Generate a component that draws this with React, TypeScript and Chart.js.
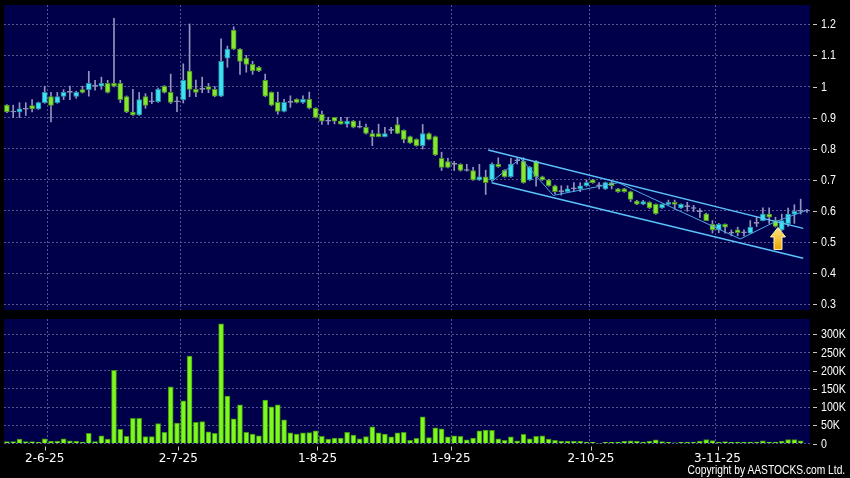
import React, { useEffect, useRef } from 'react';
import { Chart, registerables } from 'chart.js';

Chart.register(...registerables);

// ---- data (index 0 = 2 Jun 2025, one step per trading day) ----
const FIRST_INDEX = -6;

const opens = [
  0.940, 0.918, 0.918, 0.927, 0.939, 0.928,
  0.948, 0.968, 0.948, 0.968, 0.981, 0.968, 0.990, 0.990, 1.001, 1.001,
  1.010, 1.010, 1.010, 0.968, 0.918, 0.909, 0.968, 0.951, 0.951, 1.001,
  0.981, 0.951, 0.958, 1.050, 0.991, 0.991, 1.000, 0.991, 0.969, 1.091,
  1.181, 1.120, 1.091, 1.071, 1.062, 1.020, 0.981, 0.949, 0.920, 0.949,
  0.959, 0.949, 0.959, 0.930, 0.911, 0.889, 0.901, 0.889, 0.879, 0.889,
  0.869, 0.869, 0.849, 0.849, 0.839, 0.859, 0.878, 0.859, 0.839, 0.830,
  0.810, 0.849, 0.839, 0.769, 0.759, 0.750, 0.750, 0.730, 0.730, 0.700,
  0.710, 0.700, 0.751, 0.731, 0.710, 0.761, 0.760, 0.700, 0.760, 0.710,
  0.700, 0.681, 0.662, 0.662, 0.671, 0.671, 0.681, 0.700, 0.681, 0.671,
  0.691, 0.671, 0.671, 0.662, 0.632, 0.622, 0.628, 0.621, 0.610, 0.621,
  0.628, 0.610, 0.614, 0.608, 0.598, 0.591, 0.557, 0.539, 0.557, 0.529,
  0.539, 0.530, 0.529, 0.560, 0.569, 0.590, 0.569, 0.539, 0.559, 0.590,
  0.599, 0.600,
];

const highs = [
  0.942, 0.940, 0.948, 0.948, 0.958, 0.950,
  1.001, 0.981, 0.981, 0.990, 1.001, 0.985, 1.001, 1.049, 1.020, 1.030,
  1.020, 1.219, 1.020, 0.970, 0.991, 0.981, 0.977, 0.981, 0.995, 1.003,
  1.040, 0.967, 1.073, 1.201, 1.021, 1.030, 1.010, 1.000, 1.153, 1.130,
  1.192, 1.122, 1.100, 1.081, 1.065, 1.040, 0.983, 0.982, 0.959, 0.970,
  0.961, 0.970, 0.982, 0.932, 0.921, 0.901, 0.901, 0.901, 0.901, 0.891,
  0.889, 0.879, 0.859, 0.879, 0.869, 0.869, 0.901, 0.861, 0.841, 0.832,
  0.878, 0.851, 0.841, 0.789, 0.769, 0.759, 0.752, 0.750, 0.740, 0.750,
  0.731, 0.755, 0.771, 0.733, 0.769, 0.771, 0.771, 0.743, 0.762, 0.712,
  0.702, 0.683, 0.681, 0.681, 0.691, 0.691, 0.700, 0.702, 0.691, 0.693,
  0.696, 0.673, 0.673, 0.664, 0.634, 0.634, 0.630, 0.623, 0.623, 0.635,
  0.635, 0.623, 0.628, 0.618, 0.608, 0.593, 0.569, 0.560, 0.559, 0.539,
  0.548, 0.539, 0.569, 0.580, 0.610, 0.610, 0.580, 0.590, 0.609, 0.620,
  0.638, 0.605,
];

const lows = [
  0.916, 0.900, 0.900, 0.907, 0.918, 0.926,
  0.946, 0.886, 0.946, 0.958, 0.958, 0.962, 0.979, 0.969, 0.988, 0.991,
  0.979, 0.999, 0.948, 0.916, 0.907, 0.907, 0.930, 0.945, 0.949, 0.979,
  0.945, 0.919, 0.947, 0.967, 0.967, 0.980, 0.980, 0.967, 0.967, 1.062,
  1.118, 1.039, 1.046, 1.039, 1.048, 0.967, 0.938, 0.911, 0.918, 0.933,
  0.947, 0.946, 0.928, 0.899, 0.878, 0.878, 0.880, 0.879, 0.869, 0.867,
  0.867, 0.847, 0.810, 0.838, 0.838, 0.849, 0.848, 0.819, 0.817, 0.808,
  0.799, 0.828, 0.778, 0.730, 0.738, 0.730, 0.728, 0.728, 0.698, 0.698,
  0.653, 0.696, 0.740, 0.708, 0.708, 0.751, 0.689, 0.698, 0.680, 0.698,
  0.679, 0.655, 0.651, 0.660, 0.662, 0.662, 0.679, 0.689, 0.671, 0.669,
  0.671, 0.660, 0.660, 0.630, 0.620, 0.620, 0.608, 0.589, 0.608, 0.619,
  0.605, 0.608, 0.599, 0.598, 0.579, 0.569, 0.529, 0.530, 0.529, 0.520,
  0.520, 0.520, 0.528, 0.550, 0.568, 0.560, 0.548, 0.537, 0.550, 0.560,
  0.590, 0.595,
];

const closes = [
  0.918, 0.918, 0.928, 0.927, 0.928, 0.948,
  0.981, 0.939, 0.968, 0.981, 0.981, 0.981, 0.981, 1.010, 1.001, 1.010,
  0.981, 1.001, 0.958, 0.918, 0.909, 0.958, 0.939, 0.951, 0.991, 0.981,
  0.949, 0.951, 1.020, 0.991, 0.981, 0.991, 0.991, 0.969, 1.081, 1.120,
  1.120, 1.081, 1.071, 1.050, 1.050, 0.969, 0.940, 0.920, 0.949, 0.949,
  0.949, 0.959, 0.930, 0.901, 0.889, 0.889, 0.889, 0.879, 0.889, 0.869,
  0.869, 0.849, 0.839, 0.839, 0.849, 0.859, 0.849, 0.830, 0.819, 0.810,
  0.849, 0.830, 0.780, 0.740, 0.740, 0.750, 0.730, 0.730, 0.700, 0.710,
  0.691, 0.751, 0.742, 0.710, 0.751, 0.761, 0.691, 0.741, 0.710, 0.700,
  0.681, 0.662, 0.662, 0.671, 0.671, 0.681, 0.691, 0.691, 0.681, 0.691,
  0.681, 0.662, 0.662, 0.637, 0.622, 0.630, 0.610, 0.591, 0.621, 0.628,
  0.621, 0.621, 0.614, 0.608, 0.598, 0.569, 0.539, 0.557, 0.548, 0.529,
  0.530, 0.530, 0.548, 0.560, 0.590, 0.580, 0.550, 0.569, 0.590, 0.599,
  0.599, 0.600,
];

// volume, thousands of shares
const volumesK = [
  5, 5, 12, 5, 5, 3,
  13, 6, 6, 13, 7, 6, 4, 28, 5, 21,
  12, 201, 39, 20, 69, 69, 19, 19, 55, 31,
  156, 56, 117, 240, 58, 60, 32, 28, 329, 130,
  68, 106, 31, 26, 21, 119, 101, 106, 65, 29,
  26, 29, 30, 35, 20, 12, 15, 15, 31, 23,
  13, 19, 46, 29, 26, 18, 29, 31, 9, 14,
  73, 16, 43, 40, 18, 21, 20, 10, 15, 35,
  37, 36, 13, 9, 18, 7, 25, 13, 20, 21,
  12, 9, 6, 6, 6, 6, 3, 3, 1, 3,
  3, 4, 6, 7, 6, 4, 6, 10, 5, 3,
  2, 4, 4, 3, 6, 11, 8, 4, 5, 3,
  4, 4, 4, 4, 7, 4, 4, 6, 11, 11,
  7, 0,
];

const dateLabels = ['2-6-25', '2-7-25', '1-8-25', '1-9-25', '2-10-25', '3-11-25'];
const dateLabelPos = [0, 21.2, 43.3, 64.5, 86.7, 106.8];
const dateGridPos = [0.5, 21.5, 43.5, 64.5, 86.5, 106.5];
const priceTicks = [0.3, 0.4, 0.5, 0.6, 0.7, 0.8, 0.9, 1.0, 1.1, 1.2];
const volumeTicksK = [0, 50, 100, 150, 200, 250, 300];

// drawn trend channel and swing line
const channelUpper = [{ x: 70.4, y: 0.796 }, { x: 120.4, y: 0.544 }];
const channelLower = [{ x: 70.95, y: 0.691 }, { x: 120.4, y: 0.448 }];
const swingLine = [
  { x: 70.95, y: 0.694 }, { x: 75.55, y: 0.769 }, { x: 80.73, y: 0.65 },
  { x: 91.05, y: 0.691 }, { x: 110.4, y: 0.51 }, { x: 115.9, y: 0.565 },
  { x: 120.8, y: 0.601 },
];
const arrowTip = { x: 116.4, y: 0.547 };

// ---- styling ----
const X_MIN = -6.46;
const X_MAX = 121.48;
const NAVY = '#00004A';
const GRID = '#56568E';
const WICK = '#9494BE';
const GREEN_FILL = '#84E833';
const GREEN_EDGE = '#4E8E26';
const CYAN_FILL = '#3CE2F2';
const CYAN_EDGE = '#2790A8';
const VOL_FILL = '#7EF81E';
const VOL_EDGE = '#3F9410';
const NARROW_FAMILY = "'Liberation Sans', Arial, sans-serif";
const DATE_FONT = "'DejaVu Sans', sans-serif";

const formatPrice = (v: number) => String(Number(v.toFixed(1)));
const formatVolume = (v: number) => (v === 0 ? '0' : `${v}K`);

const panelBg = {
  id: 'panelBg',
  beforeDraw(chart: any) {
    const { ctx, chartArea: a } = chart;
    ctx.save();
    ctx.fillStyle = NAVY;
    ctx.fillRect(a.left, a.top, a.right - a.left, a.bottom - a.top);
    ctx.restore();
  },
};

// small detached tick marks + condensed value labels on the right axis
const axisDecor = {
  id: 'axisDecor',
  afterDraw(chart: any) {
    const { ctx, chartArea: a, scales } = chart;
    const opts = chart.options.plugins.axisDecor || {};
    const y = scales.y;
    ctx.save();
    ctx.strokeStyle = '#C8C8C8';
    ctx.lineWidth = 1;
    y.ticks.forEach((t: any) => {
      const py = Math.round(y.getPixelForValue(t.value)) + 0.5;
      ctx.beginPath();
      ctx.moveTo(a.right + 3, py);
      ctx.lineTo(a.right + 7, py);
      ctx.stroke();
    });
    if (opts.xMarks) {
      const x = scales.x;
      x.ticks.forEach((t: any) => {
        const px = Math.round(x.getPixelForValue(t.value)) + 0.5;
        ctx.beginPath();
        ctx.moveTo(px, a.bottom + 3);
        ctx.lineTo(px, a.bottom + 7);
        ctx.stroke();
      });
    }
    ctx.fillStyle = '#FFFFFF';
    ctx.font = `13px ${NARROW_FAMILY}`;
    ctx.textBaseline = 'middle';
    ctx.textAlign = 'left';
    y.ticks.forEach((t: any) => {
      const py = y.getPixelForValue(t.value);
      const text = opts.kind === 'volume' ? formatVolume(t.value) : formatPrice(t.value);
      ctx.save();
      ctx.translate(a.right + 11, py + 0.5);
      ctx.scale(0.82, 1);
      ctx.fillText(text, 0, 0);
      ctx.restore();
    });
    ctx.restore();
  },
};

const arrowPlugin = {
  id: 'arrowMark',
  afterDatasetsDraw(chart: any) {
    const { ctx, scales } = chart;
    const tx = scales.x.getPixelForValue(arrowTip.x);
    const ty = scales.y.getPixelForValue(arrowTip.y);
    ctx.save();
    const g = ctx.createLinearGradient(0, ty, 0, ty + 22);
    g.addColorStop(0, '#FFE680');
    g.addColorStop(1, '#E9A400');
    ctx.beginPath();
    ctx.moveTo(tx, ty);
    ctx.lineTo(tx + 7.5, ty + 9.5);
    ctx.lineTo(tx + 4, ty + 9.5);
    ctx.lineTo(tx + 4, ty + 22);
    ctx.lineTo(tx - 4, ty + 22);
    ctx.lineTo(tx - 4, ty + 9.5);
    ctx.lineTo(tx - 7.5, ty + 9.5);
    ctx.closePath();
    ctx.fillStyle = g;
    ctx.fill();
    ctx.strokeStyle = '#FFF4C4';
    ctx.lineWidth = 1;
    ctx.stroke();
    ctx.restore();
  },
};

function zeroPad(axis: any) {
  axis.paddingTop = 0;
  axis.paddingBottom = 0;
  axis.paddingLeft = 0;
  axis.paddingRight = 0;
}

export default function App() {
  const priceRef = useRef<HTMLCanvasElement>(null);
  const volRef = useRef<HTMLCanvasElement>(null);

  useEffect(() => {
    const idx = opens.map((_, k) => FIRST_INDEX + k);
    const bodyColor = (k: number) =>
      closes[k] === opens[k] ? WICK : closes[k] > opens[k] ? CYAN_FILL : GREEN_FILL;
    const edgeColor = (k: number) =>
      closes[k] === opens[k] ? WICK : closes[k] > opens[k] ? CYAN_EDGE : GREEN_EDGE;

    const price = new Chart(priceRef.current as HTMLCanvasElement, {
      type: 'bar',
      data: {
        datasets: [
          {
            type: 'line',
            data: channelUpper,
            borderColor: '#5CC2FA',
            borderWidth: 1.5,
            pointRadius: 0,
            order: 1,
          } as any,
          {
            type: 'line',
            data: channelLower,
            borderColor: '#5CC2FA',
            borderWidth: 1.5,
            pointRadius: 0,
            order: 1,
          } as any,
          {
            type: 'line',
            data: swingLine,
            borderColor: '#4FA6E6',
            borderWidth: 1,
            pointRadius: 0,
            order: 1,
          } as any,
          {
            type: 'bar',
            data: idx.map((x, k) => ({ x, y: [Math.min(opens[k], closes[k]), Math.max(opens[k], closes[k])] })),
            backgroundColor: idx.map((_, k) => bodyColor(k)),
            borderColor: idx.map((_, k) => edgeColor(k)),
            borderWidth: 1,
            borderSkipped: false,
            minBarLength: 1,
            barThickness: 5,
            grouped: false,
            order: 2,
          } as any,
          {
            type: 'bar',
            data: idx.map((x, k) => ({ x, y: [lows[k], highs[k]] })),
            backgroundColor: WICK,
            borderWidth: 0,
            barThickness: 1,
            grouped: false,
            order: 3,
          } as any,
        ],
      },
      options: {
        responsive: false,
        animation: false,
        layout: { padding: { left: 4, top: 5, right: 0, bottom: 8 } },
        plugins: { legend: { display: false }, tooltip: { enabled: false }, axisDecor: { kind: 'price' } },
        scales: {
          x: {
            type: 'linear',
            min: X_MIN,
            max: X_MAX,
            offset: false,
            afterBuildTicks: (axis: any) => {
              axis.ticks = dateGridPos.map((v) => ({ value: v }));
            },
            afterFit: (axis: any) => {
              axis.height = 0;
              zeroPad(axis);
            },
            ticks: { display: false },
            grid: { color: GRID, drawTicks: false, offset: false },
            border: { display: false, dash: [2, 2] },
          },
          y: {
            type: 'linear',
            position: 'right',
            min: 0.2817,
            max: 1.262,
            afterBuildTicks: (axis: any) => {
              axis.ticks = priceTicks.map((v) => ({ value: v }));
            },
            afterFit: (axis: any) => {
              axis.width = 40;
              zeroPad(axis);
            },
            ticks: { display: false },
            grid: { color: GRID, drawTicks: false },
            border: { display: false, dash: [2, 2] },
          },
        },
      } as any,
      plugins: [panelBg, axisDecor, arrowPlugin],
    });

    const volume = new Chart(volRef.current as HTMLCanvasElement, {
      type: 'bar',
      data: {
        datasets: [
          {
            data: idx.map((x, k) => ({ x, y: volumesK[k] })),
            backgroundColor: VOL_FILL,
            borderColor: VOL_EDGE,
            borderWidth: 1,
            borderSkipped: 'bottom',
            barThickness: 5,
            grouped: false,
          } as any,
        ],
      },
      options: {
        responsive: false,
        animation: false,
        layout: { padding: { left: 4, top: 1, right: 0, bottom: 0 } },
        plugins: {
          legend: { display: false },
          tooltip: { enabled: false },
          axisDecor: { kind: 'volume', xMarks: true },
        },
        scales: {
          x: {
            type: 'linear',
            position: 'bottom',
            min: X_MIN,
            max: X_MAX,
            offset: false,
            afterBuildTicks: (axis: any) => {
              axis.ticks = dateLabelPos.map((v) => ({ value: v }));
            },
            afterFit: (axis: any) => {
              axis.height = 34.5;
              zeroPad(axis);
            },
            ticks: {
              color: '#FFFFFF',
              padding: 8,
              autoSkip: false,
              maxRotation: 0,
              font: { family: DATE_FONT, size: 12 },
              callback: (_v: any, i: number) => dateLabels[i],
            },
            grid: { drawOnChartArea: false, drawTicks: false, offset: false },
            border: { display: false },
          },
          x2: {
            type: 'linear',
            position: 'bottom',
            min: X_MIN,
            max: X_MAX,
            offset: false,
            afterBuildTicks: (axis: any) => {
              axis.ticks = dateGridPos.map((v) => ({ value: v }));
            },
            afterFit: (axis: any) => {
              axis.height = 0;
              zeroPad(axis);
            },
            ticks: { display: false },
            grid: { color: GRID, drawTicks: false, offset: false },
            border: { display: false, dash: [2, 2] },
          },
          y: {
            type: 'linear',
            position: 'right',
            min: 0,
            max: 342,
            afterBuildTicks: (axis: any) => {
              axis.ticks = volumeTicksK.map((v) => ({ value: v }));
            },
            afterFit: (axis: any) => {
              axis.width = 40;
              zeroPad(axis);
            },
            ticks: { display: false },
            grid: { color: GRID, drawTicks: false },
            border: { display: false, dash: [2, 2] },
          },
        },
      } as any,
      plugins: [panelBg, axisDecor],
    });

    return () => {
      price.destroy();
      volume.destroy();
    };
  }, []);

  return (
    <div
      style={{
        position: 'fixed',
        left: 0,
        top: 0,
        width: 850,
        height: 478,
        background: '#000',
        overflow: 'hidden',
      }}
    >
      <canvas
        ref={priceRef}
        width={850}
        height={318}
        style={{ position: 'absolute', left: 0, top: 0, width: 850, height: 318 }}
      />
      <canvas
        ref={volRef}
        width={850}
        height={160}
        style={{ position: 'absolute', left: 0, top: 318, width: 850, height: 160 }}
      />
      <div
        style={{
          position: 'absolute',
          right: 5,
          top: 463,
          color: '#FFFFFF',
          fontFamily: NARROW_FAMILY,
          fontSize: 12.5,
          lineHeight: '15px',
          whiteSpace: 'nowrap',
          transform: 'scaleX(0.82)',
          transformOrigin: 'right center',
        }}
      >
        Copyright by AASTOCKS.com Ltd.
      </div>
    </div>
  );
}
